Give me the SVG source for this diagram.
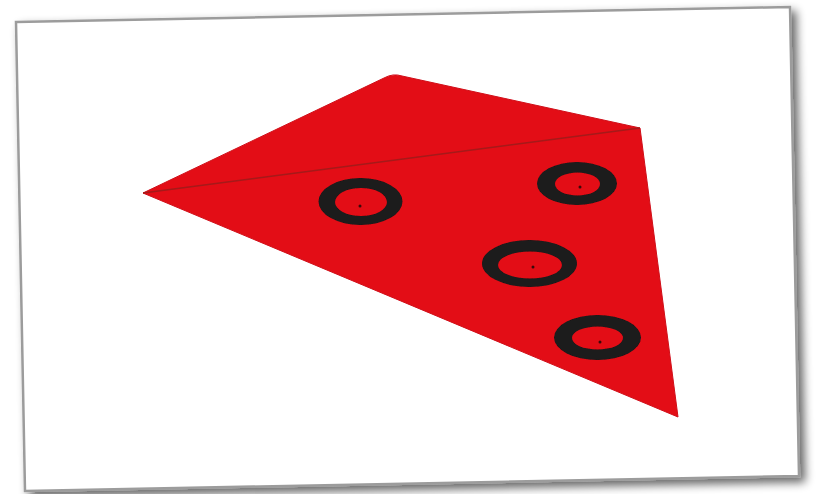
<svg xmlns="http://www.w3.org/2000/svg" width="817" height="494" viewBox="0 0 817 494">
<defs>
<filter id="sh" x="-5%" y="-5%" width="110%" height="112%">
<feGaussianBlur in="SourceAlpha" stdDeviation="5"/>
<feOffset dx="5" dy="5" result="b"/>
<feComponentTransfer><feFuncA type="linear" slope="0.6"/></feComponentTransfer>
<feMerge><feMergeNode/><feMergeNode in="SourceGraphic"/></feMerge>
</filter>
<filter id="soft"><feGaussianBlur stdDeviation="0.7"/></filter>
</defs>
<style>
.ring{fill:#1a1a1a;fill-rule:evenodd;filter:url(#soft)}
.dot{fill:#3a0a0a}
</style>
<rect width="817" height="494" fill="#ffffff"/>
<polygon id="frame" points="16,22 790,7 799,476 25,491" fill="#ffffff" stroke="#9c9c9c" stroke-width="2.5" filter="url(#sh)"/>
<g id="shape">
<path d="M143,193 L384,78 Q393,73 402,76 L640,128 L678,417 Z" fill="#e30a17" stroke="#d00a15" stroke-width="1" stroke-linejoin="round" filter="url(#soft)"/>
<line x1="143" y1="193" x2="640" y2="128" stroke="#a51a1a" stroke-width="1.4"/>
</g>
<g id="ring1">
<path class="ring" d="M318.5,201.5 a42,23.5 0 1,0 84,0 a42,23.5 0 1,0 -84,0 Z M335,202 a26,14 0 1,0 52,0 a26,14 0 1,0 -52,0 Z"/>
<circle class="dot" cx="360" cy="206" r="1.5"/>
</g>
<g id="ring2">
<path class="ring" d="M537,183.5 a40,21.5 0 1,0 80,0 a40,21.5 0 1,0 -80,0 Z M555,184 a22.5,11.5 0 1,0 45,0 a22.5,11.5 0 1,0 -45,0 Z"/>
<circle class="dot" cx="580" cy="187" r="1.5"/>
</g>
<g id="ring3">
<path class="ring" d="M482,263.5 a47.5,23.5 0 1,0 95,0 a47.5,23.5 0 1,0 -95,0 Z M498,265 a32,13.5 0 1,0 64,0 a32,13.5 0 1,0 -64,0 Z"/>
<circle class="dot" cx="533" cy="267" r="1.5"/>
</g>
<g id="ring4">
<path class="ring" d="M554,337.5 a43.5,22.5 0 1,0 87,0 a43.5,22.5 0 1,0 -87,0 Z M572,338 a25.5,11.5 0 1,0 51,0 a25.5,11.5 0 1,0 -51,0 Z"/>
<circle class="dot" cx="600" cy="342" r="1.5"/>
</g>
<g id="connectors"/>
</svg>
